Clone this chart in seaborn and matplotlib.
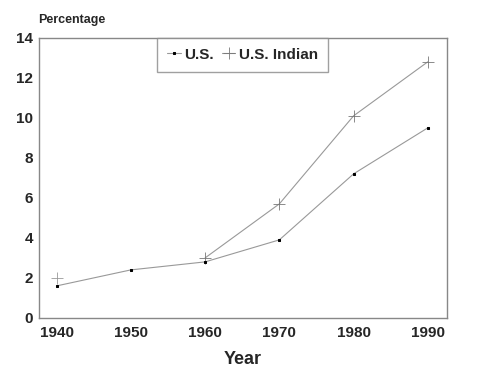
import numpy as np
import pandas as pd
import matplotlib
matplotlib.use("Agg")
import matplotlib.pyplot as plt
import seaborn as sns

years = [1940, 1950, 1960, 1970, 1980, 1990]
us_values = [1.6, 2.4, 2.8, 3.9, 7.2, 9.5]
indian_years = [1940, 1960, 1970, 1980, 1990]
indian_values = [2.0, 3.0, 5.7, 10.1, 12.8]

sns.set_style("white")
plt.rcParams['font.family'] = ['Liberation Sans', 'DejaVu Sans']
plt.rcParams['font.weight'] = 'bold'

us = pd.DataFrame({'year': years, 'pct': us_values})
ind = pd.DataFrame({'year': indian_years, 'pct': indian_values})

fig = plt.figure(figsize=(4.86, 3.78), dpi=100)
ax = fig.add_axes([0.080, 0.159, 0.840, 0.741])

line_grey = '#999999'
# 1940 Indian value drawn as a lone marker, line starts at 1960
ax.plot(ind['year'][:1], ind['pct'][:1], linestyle='none', marker='+',
        color='#999999', markersize=9, markeredgewidth=0.6)
sns.lineplot(data=ind.iloc[1:], x='year', y='pct', ax=ax, color=line_grey,
             linewidth=0.8, marker='+', markersize=9, markeredgewidth=0.6,
             markeredgecolor='#777777', label='U.S. Indian')
sns.lineplot(data=us, x='year', y='pct', ax=ax, color=line_grey,
             linewidth=0.8, marker='s', markersize=2.0,
             markerfacecolor='black', markeredgecolor='black', label='U.S.')

ax.set_xlim(1937.6, 1992.6)
ax.set_ylim(0, 14)
ax.set_xticks(years)
ax.set_yticks(range(0, 15, 2))
ax.tick_params(axis='y', direction='in', length=4, color='#cccccc',
               labelsize=11, pad=4)
ax.tick_params(axis='x', length=0, labelsize=11, pad=6)
for lab in ax.get_xticklabels() + ax.get_yticklabels():
    lab.set_fontweight('bold')
for sp in ax.spines.values():
    sp.set_color('#888888')
    sp.set_linewidth(1.0)

ax.set_xlabel('Year', fontsize=13, fontweight='bold', labelpad=8)
ax.set_ylabel('')
fig.text(0.078, 0.93, 'Percentage', fontsize=9, fontweight='bold',
         ha='left', va='bottom')

handles, labels = ax.get_legend_handles_labels()
order = [labels.index('U.S.'), labels.index('U.S. Indian')]
leg = ax.legend([handles[i] for i in order], [labels[i] for i in order],
                ncol=2, loc='upper left', bbox_to_anchor=(0.289, 1.0),
                borderaxespad=0, frameon=True, fancybox=False,
                borderpad=0.65, handlelength=0.9, handletextpad=0.25,
                columnspacing=0.5, prop={'size': 11, 'weight': 'bold'})
leg.get_frame().set_edgecolor('#888888')
leg.get_frame().set_linewidth(1.0)

fig.savefig('out.png', dpi=100)
